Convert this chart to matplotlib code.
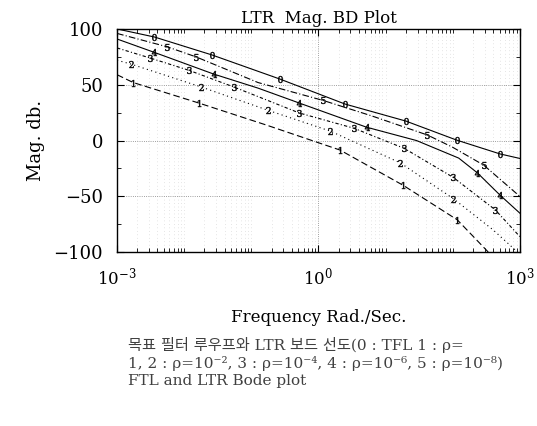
import numpy as np
import matplotlib.pyplot as plt
from matplotlib.ticker import LogLocator, MultipleLocator, NullFormatter

# Values (frequency in rad/s, magnitude in dB)
w0 = [1e-3, 3.6e-3, 2.6e-2, 0.27, 2.5, 20, 115, 510, 1000]
m0 = [100, 92.8, 76.7, 55, 32.7, 17.5, 0.4, -12, -16]
lab0 = [1, 2, 3, 4, 5, 6, 7]

w5 = [1e-3, 5.6e-3, 1.5e-2, 0.126, 1.17, 6.3, 42, 100, 290, 1000]
m5 = [96, 84, 75, 52, 36, 22, 5, -6, -22, -50]
lab5 = [1, 2, 4, 6, 8]

w4 = [1e-3, 3.6e-3, 2.75e-2, 0.126, 0.52, 5.2, 29, 123, 234, 510, 1000]
m4 = [91, 79, 59.6, 47, 33.6, 12, 0, -15.7, -29, -49, -65]
lab4 = [1, 2, 4, 5, 8, 9]

w3 = [1e-3, 3.1e-3, 1.17e-2, 5.5e-2, 0.52, 3.4, 19, 102, 430, 1000]
m3 = [83, 74, 63, 48, 24.7, 11, -7, -33, -62, -86]
lab3 = [1, 2, 3, 4, 5, 6, 7, 8]

w2 = [1e-3, 1.6e-3, 1.8e-2, 0.18, 1.5, 16.6, 102, 400, 930]
m2 = [72, 68.6, 48, 27, 8.5, -20, -52, -80, -100]
lab2 = [1, 2, 3, 4, 5, 6]

w1 = [1e-3, 1.74e-3, 1.66e-2, 0.166, 2.1, 18.2, 117, 340]
m1 = [59, 52, 33.6, 14, -8.5, -40, -71, -100]
lab1 = [1, 2, 4, 5, 6]

curves = [
    ('0', w0, m0, lab0, '-'),
    ('5', w5, m5, lab5, (0, (6, 2, 1, 2))),
    ('4', w4, m4, lab4, '-'),
    ('3', w3, m3, lab3, (0, (3, 2, 1, 2))),
    ('2', w2, m2, lab2, (0, (1, 3))),
    ('1', w1, m1, lab1, (0, (6, 3))),
]

caption = ("목표 필터 루우프와 LTR 보드 선도(0 : TFL 1 : ρ=\n"
           "1, 2 : ρ=10⁻², 3 : ρ=10⁻⁴, 4 : ρ=10⁻⁶, 5 : ρ=10⁻⁸)\n"
           "FTL and LTR Bode plot")

serif = 'DejaVu Serif'
plt.rcParams['mathtext.fontset'] = 'dejavuserif'

fig = plt.figure(figsize=(5.37, 4.26), dpi=100)
ax = fig.add_axes([0.218, 0.408, 0.75, 0.524])

for name, w, m, idx, ls in curves:
    ax.plot(w, m, color='black', linestyle=ls, linewidth=0.8,
            marker='$%s$' % name, markevery=idx, markersize=5,
            markeredgewidth=0.3)

ax.set_xscale('log')
ax.set_xlim(1e-3, 1e3)
ax.set_ylim(-100, 100)

ax.set_xticks([1e-3, 1e0, 1e3])
ax.set_xticklabels([r'$10^{-3}$', r'$10^{0}$', r'$10^{3}$'])
ax.xaxis.set_minor_locator(LogLocator(base=10, subs=np.arange(1, 10), numticks=50))
ax.xaxis.set_minor_formatter(NullFormatter())
ax.set_yticks([-100, -50, 0, 50, 100])
ax.yaxis.set_minor_locator(MultipleLocator(25))

ax.tick_params(which='both', direction='in', top=True, right=True)
ax.tick_params(which='major', length=5, labelsize=13, pad=10)
ax.tick_params(axis='x', which='major', labelsize=12)
ax.tick_params(which='minor', length=3)
for lbl in ax.get_xticklabels() + ax.get_yticklabels():
    lbl.set_family(serif)

ax.grid(True, which='major', linestyle=':', color='0.5', linewidth=0.6)
ax.grid(True, which='minor', axis='x', linestyle=(0, (1, 4)), color='0.8', linewidth=0.5)
for s in ax.spines.values():
    s.set_linewidth(1.0)

ax.set_title('LTR  Mag. BD Plot', family=serif, fontsize=12, pad=4)
ax.set_ylabel('Mag. db.', family=serif, fontsize=13, labelpad=6)
ax.set_xlabel('Frequency Rad./Sec.', family=serif, fontsize=12, labelpad=15)

fig.text(0.238, 0.21, caption, family=[serif, 'Noto Sans CJK KR'],
         fontsize=11, color='0.25', va='top', ha='left', linespacing=1.3)

fig.savefig('out.png', dpi=100)
